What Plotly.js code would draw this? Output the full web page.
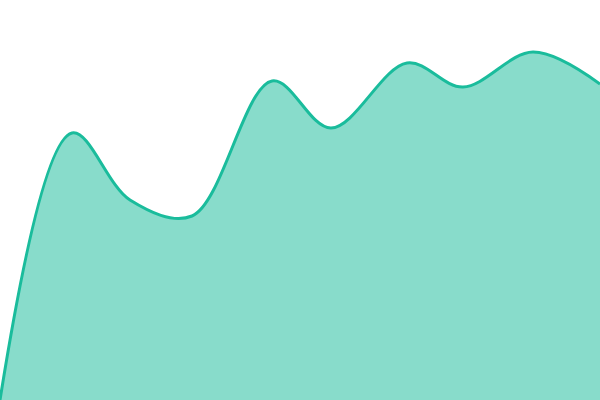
<!DOCTYPE html>
<html>
<head>
<meta charset="utf-8">
<script src="https://cdn.plot.ly/plotly-3.0.1.min.js"></script>
<style>
  html, body { margin: 0; padding: 0; background: #fff; }
  #chart { width: 600px; height: 400px; }
</style>
</head>
<body>
<div id="chart"></div>
<script>
// sample positions and values
const xs = [0, 72, 130, 192, 272, 331, 407, 463, 533, 600];
const ys = [0, 267, 200, 184, 319, 272, 337, 313, 348, 316];

const data = [{
  x: xs,
  y: ys,
  type: 'scatter',
  mode: 'lines',
  fill: 'tozeroy',
  fillcolor: 'rgba(26,188,156,0.52)',
  line: {color: '#1abc9c', width: 3, shape: 'spline', smoothing: 1},
  hoverinfo: 'none'
}];

const layout = {
  width: 600,
  height: 400,
  margin: {l: 0, r: 0, t: 0, b: 0},
  paper_bgcolor: '#fff',
  plot_bgcolor: '#fff',
  showlegend: false,
  xaxis: {range: [0, 600], visible: false, fixedrange: true},
  yaxis: {range: [0, 400], visible: false, fixedrange: true}
};

Plotly.newPlot('chart', data, layout, {displayModeBar: false, staticPlot: true});
</script>
</body>
</html>
